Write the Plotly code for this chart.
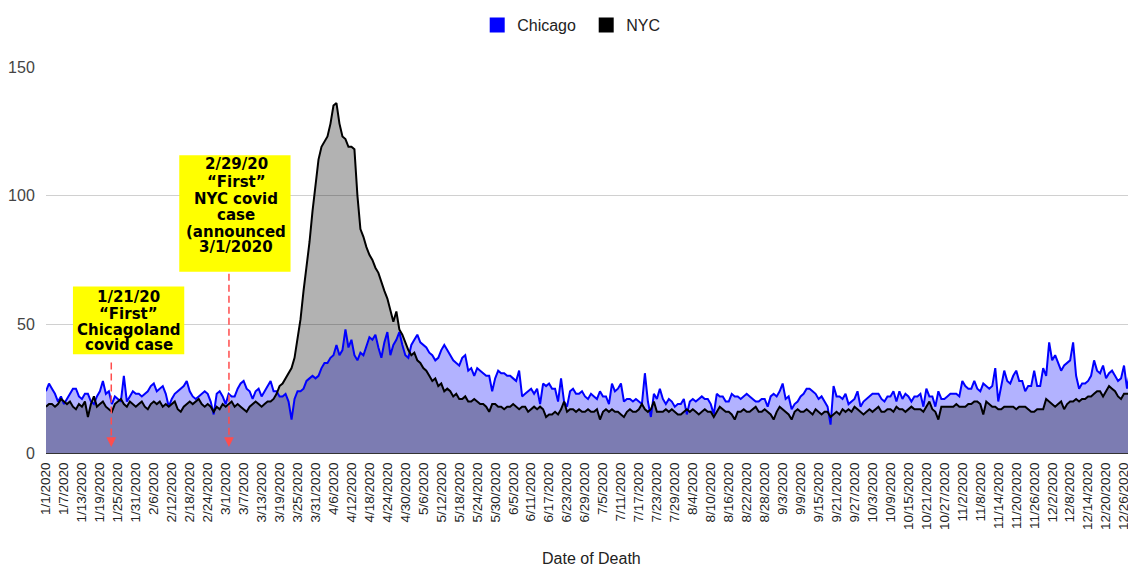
import pandas as pd
import plotly.graph_objects as go

# ---- data (daily deaths, 2020) ----
dates = [f"{d.month}/{d.day}/{d.year}" for d in pd.date_range("2020-01-01", "2020-12-31")]

chicago = [
    # Jan
    24, 27, 25, 23, 20, 22, 19, 21, 23, 25, 25, 22, 21, 23, 23, 20, 19, 22, 24, 28, 23, 24, 19, 22, 21, 20, 30, 20, 22, 24, 23,
    # Feb
    23, 22, 23, 24, 26, 27, 24, 25, 26, 23, 18, 21, 23, 24, 25, 26, 28, 24, 22, 21, 22, 23, 24, 23, 20, 15, 23, 24, 22,
    # Mar
    19, 23, 22, 22, 25, 27, 28, 25, 24, 21, 24, 25, 22, 24, 26, 28, 24, 24, 22, 22, 23, 20, 13, 21, 24, 24, 25, 28, 29, 30, 29,
    # Apr
    30, 33, 35, 35, 37, 38, 42, 38, 40, 48, 41, 44, 38, 36, 39, 38, 42, 45, 44, 46, 41, 37, 43, 47, 38, 42, 44, 47, 42, 38,
    # May
    37, 42, 44, 46, 43, 42, 41, 39, 38, 36, 37, 40, 42, 40, 38, 36, 35, 34, 37, 38, 32, 33, 30, 33, 32, 31, 30, 30, 24, 29, 32,
    # Jun
    31, 31, 30, 30, 29, 28, 32, 22, 23, 24, 25, 23, 25, 19, 27, 26, 27, 25, 25, 20, 29, 20, 18, 24, 25, 23, 23, 24, 22, 21,
    # Jul
    23, 22, 21, 24, 22, 22, 19, 27, 24, 25, 27, 20, 21, 21, 20, 21, 20, 19, 31, 20, 14, 23, 21, 25, 21, 19, 21, 20, 18, 19, 19,
    # Aug
    21, 15, 20, 21, 20, 21, 22, 21, 21, 19, 15, 23, 22, 22, 20, 20, 23, 22, 22, 21, 22, 23, 22, 21, 20, 20, 21, 21, 18, 22, 23,
    # Sep
    22, 24, 27, 21, 22, 17, 19, 20, 22, 23, 25, 25, 24, 23, 21, 22, 20, 18, 11, 26, 22, 22, 21, 23, 19, 20, 21, 24, 18, 20,
    # Oct
    21, 22, 23, 23, 23, 21, 20, 22, 22, 24, 20, 24, 21, 23, 22, 20, 22, 22, 23, 18, 25, 22, 22, 18, 24, 21, 21, 22, 23, 23, 23,
    # Nov
    22, 28, 26, 25, 25, 28, 25, 24, 27, 26, 25, 26, 33, 20, 26, 32, 28, 27, 30, 32, 28, 28, 24, 26, 26, 32, 26, 26, 33, 30,
    # Dec
    43, 36, 38, 35, 32, 34, 35, 36, 43, 30, 25, 27, 27, 28, 30, 36, 32, 31, 34, 29, 31, 32, 30, 28, 29, 34, 25, 32, 29, 28, 27,
]

nyc = [
    # Jan
    18, 19, 19, 18, 19, 21, 20, 19, 20, 18, 17, 19, 18, 20, 14, 19, 22, 18, 19, 20, 18, 17, 16, 19, 20, 21, 19, 18, 20, 19, 18,
    # Feb
    19, 20, 18, 17, 19, 20, 19, 20, 18, 19, 18, 19, 20, 17, 16, 18, 19, 20, 19, 20, 21, 19, 18, 19, 18, 16, 18, 17, 19,
    # Mar
    18, 19, 20, 18, 19, 18, 17, 16, 18, 19, 20, 19, 18, 19, 20, 20, 21, 23, 26, 27, 29, 31, 33, 37, 44, 52, 63, 72, 82, 94, 105,
    # Apr
    114, 119, 121, 123, 128, 135, 136, 128, 123, 122, 119, 119, 118, 100, 87, 84, 80, 77, 75, 72, 70, 66, 63, 60, 55, 51, 55, 48, 46, 43,
    # May
    40, 38, 39, 36, 35, 33, 32, 30, 28, 29, 26, 27, 24, 25, 24, 22, 23, 21, 21, 22, 20, 20, 21, 20, 19, 19, 18, 16, 19, 19, 18,
    # Jun
    18, 17, 18, 18, 19, 18, 17, 18, 18, 16, 17, 18, 17, 18, 17, 14, 15, 15, 16, 15, 17, 20, 16, 17, 17, 16, 17, 16, 16, 17,
    # Jul
    16, 16, 17, 13, 16, 17, 16, 17, 16, 16, 15, 14, 16, 17, 16, 16, 17, 19, 17, 16, 17, 20, 16, 16, 16, 17, 16, 17, 16, 15, 15,
    # Aug
    16, 17, 16, 17, 16, 15, 16, 17, 16, 16, 14, 16, 18, 17, 16, 16, 15, 13, 16, 16, 17, 16, 16, 17, 18, 16, 16, 17, 16, 15, 13,
    # Sep
    16, 18, 17, 16, 15, 13, 16, 17, 16, 16, 17, 16, 15, 17, 16, 15, 16, 16, 14, 15, 16, 15, 17, 16, 17, 16, 18, 17, 16, 15,
    # Oct
    16, 17, 16, 17, 18, 16, 16, 17, 17, 16, 18, 17, 17, 16, 17, 18, 17, 17, 17, 16, 18, 20, 17, 16, 13, 18, 18, 18, 18, 18, 19,
    # Nov
    18, 18, 18, 19, 19, 20, 20, 19, 15, 20, 19, 18, 18, 17, 17, 18, 18, 18, 18, 17, 18, 18, 18, 17, 16, 16, 17, 17, 17, 21,
    # Dec
    20, 19, 18, 19, 20, 17, 19, 20, 20, 21, 20, 21, 21, 22, 22, 23, 24, 24, 22, 24, 26, 25, 24, 22, 21, 23, 23, 23, 22, 22, 21,
]

y_ticks = [0, 50, 100, 150]
tick_step = 6

note_chicago = ["1/21/20", "“First”", "Chicagoland", "covid case"]
note_nyc = ["2/29/20", "“First”", "NYC covid", "case", "(announced", "3/1/2020"]

# ---- figure ----
idx = list(range(len(dates)))
tick_idx = idx[::tick_step]
tick_txt = dates[::tick_step]

fig = go.Figure()
fig.add_trace(go.Scatter(x=idx, y=chicago, mode="lines", fill="tozeroy",
                         fillcolor="rgba(0,0,255,0.3)", line=dict(width=0, color="rgba(0,0,255,0)"),
                         showlegend=False, hoverinfo="skip"))
fig.add_trace(go.Scatter(x=idx, y=nyc, mode="lines", fill="tozeroy",
                         fillcolor="rgba(0,0,0,0.3)", line=dict(width=0, color="rgba(0,0,0,0)"),
                         showlegend=False, hoverinfo="skip"))
fig.add_trace(go.Scatter(x=idx, y=chicago, mode="lines", name="Chicago",
                         line=dict(color="#0000ff", width=2), showlegend=False))
fig.add_trace(go.Scatter(x=idx, y=nyc, mode="lines", name="NYC",
                         line=dict(color="#000000", width=2), showlegend=False))
# legend entries
fig.add_trace(go.Scatter(x=[None], y=[None], mode="markers", name="Chicago",
                         marker=dict(symbol="square", size=15, color="#0000ff")))
fig.add_trace(go.Scatter(x=[None], y=[None], mode="markers", name="NYC",
                         marker=dict(symbol="square", size=15, color="#000000")))

PX = 392 / 150.0  # pixels per unit


def v(ypix):
    return (453 - ypix) / PX


def xi(xpix):
    return (xpix - 44) / 3.0


shapes = [
    dict(type="rect", xref="x", yref="y", x0=xi(71), x1=xi(182.5), y0=v(352.7), y1=v(284),
         fillcolor="#ffff00", line=dict(width=0), layer="above"),
    dict(type="rect", xref="x", yref="y", x0=xi(177.5), x1=xi(289), y0=v(269), y1=v(150.5),
         fillcolor="#ffff00", line=dict(width=0), layer="above"),
    dict(type="line", xref="x", yref="y", x0=21.8, x1=21.8, y0=v(361), y1=v(442),
         line=dict(color="#ff4d4d", width=1.5, dash="7px,4px")),
    dict(type="line", xref="x", yref="y", x0=61.1, x1=61.1, y0=v(271), y1=v(442),
         line=dict(color="#ff4d4d", width=1.5, dash="7px,4px")),
]

annotations = []
for ax_x in (21.8, 61.1):
    annotations.append(dict(x=ax_x, y=v(447), xref="x", yref="y", ax=0, ay=-9, text="",
                            showarrow=True, arrowhead=2, arrowsize=1.3, arrowwidth=1.5,
                            arrowcolor="#ff4d4d", standoff=0))

for line, ypix in zip(note_chicago, [295, 312, 328.3, 343.5]):
    annotations.append(dict(x=xi(127), y=v(ypix), xref="x", yref="y", text=f"<b>{line}</b>",
                            showarrow=False, xanchor="center", yanchor="middle",
                            font=dict(family="DejaVu Sans", size=15, color="#000000")))
for line, ypix in zip(note_nyc, [160, 177.3, 195, 211.7, 228.3, 243.8]):
    annotations.append(dict(x=xi(234.5), y=v(ypix), xref="x", yref="y", text=f"<b>{line}</b>",
                            showarrow=False, xanchor="center", yanchor="middle",
                            font=dict(family="DejaVu Sans", size=15, color="#000000")))

annotations.append(dict(x=0.5, y=(453 - 560) / 392.0, xref="paper", yref="paper",
                        text="Date of Death", showarrow=False, xanchor="center", yanchor="middle",
                        font=dict(family="Arial, Liberation Sans", size=16, color="#222222")))

# the page body adds an 8px offset, so the figure is sized/margined to compensate
fig.update_layout(
    width=1128, height=560, autosize=False,
    margin=dict(l=36, r=0, t=53, b=115),
    paper_bgcolor="white", plot_bgcolor="white",
    font=dict(family="Arial, Liberation Sans", color="#222222"),
    shapes=shapes, annotations=annotations,
    legend=dict(orientation="h", x=(476 - 44) / 1092.0, xanchor="left", y=1.11, yanchor="middle",
                font=dict(size=16, color="#222222"), itemclick=False, entrywidth=64,
                entrywidthmode="pixels"),
    showlegend=True,
)
fig.update_xaxes(range=[0, 364], tickmode="array", tickvals=tick_idx, ticktext=tick_txt,
                 tickangle=-90, tickfont=dict(size=13.5, color="#222222"), showgrid=False,
                 showline=True, linecolor="#333333", linewidth=1, zeroline=False,
                 ticks="outside", ticklen=3, tickcolor="rgba(0,0,0,0)")
fig.update_yaxes(range=[0, 150], tickvals=y_ticks, tickfont=dict(size=16, color="#444444"),
                 showgrid=True, gridcolor="#d0d0d0", gridwidth=1, zeroline=False,
                 ticks="outside", ticklen=7, tickcolor="rgba(0,0,0,0)", showline=False)

fig.write_html("out.html")
